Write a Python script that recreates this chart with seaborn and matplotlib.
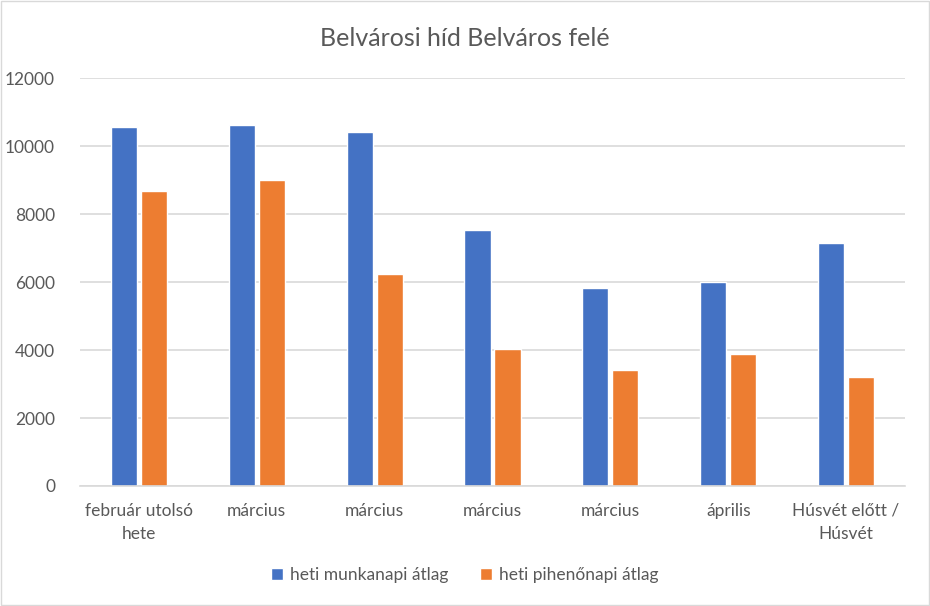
import pandas as pd
import numpy as np
import matplotlib.pyplot as plt
import seaborn as sns

# Adatok
kategoriak = ["február utolsó\nhete", "március", "március", "március",
              "március", "április", "Húsvét előtt /\nHúsvét"]
munkanap = [10560, 10620, 10410, 7530, 5820, 6000, 7150]
pihenonap = [8680, 9000, 6235, 4030, 3410, 3880, 3205]
sorozatok = ["heti munkanapi átlag", "heti pihenőnapi átlag"]
szinek = ["#4472C4", "#ED7D31"]

df = pd.DataFrame({
    "het": list(range(len(kategoriak))) * 2,
    "ertek": munkanap + pihenonap,
    "sorozat": [sorozatok[0]] * len(munkanap) + [sorozatok[1]] * len(pihenonap),
})

sns.set_style("white")
plt.rcParams['font.family'] = ['Lato', 'DejaVu Sans']
szurke = "#595959"

fig = plt.figure(figsize=(9.3, 6.06), dpi=100)
ax = fig.add_axes([80 / 930, 1 - 486 / 606, 825 / 930, 408 / 606])

sns.barplot(data=df, x="het", y="ertek", hue="sorozat", palette=szinek,
            width=0.51, gap=0.13, saturation=1, ax=ax, legend=True)

ax.set_ylim(0, 12000)
ax.set_xlim(-0.5, len(kategoriak) - 0.5)
ax.set_yticks(np.arange(0, 12001, 2000))
ax.set_xticks(range(len(kategoriak)))
ax.set_xticklabels(kategoriak, color=szurke, fontsize=12.5, linespacing=1.55, va="top")
ax.tick_params(axis="y", labelcolor=szurke, labelsize=12.5, length=0, pad=18)
ax.tick_params(axis="x", length=0, pad=12)
ax.yaxis.grid(True, color="#d9d9d9", linewidth=1.2)
ax.set_axisbelow(True)
for s in ["top", "right", "left"]:
    ax.spines[s].set_visible(False)
ax.spines["bottom"].set_color("#d9d9d9")
ax.spines["bottom"].set_linewidth(1.2)
ax.set_xlabel("")
ax.set_ylabel("")

fig.suptitle("Belvárosi híd Belváros felé", y=1 - 38 / 606, va="center",
             fontsize=18, color=szurke)

ax.get_legend().remove()
fig.legend(*ax.get_legend_handles_labels(), loc="center", bbox_to_anchor=(0.5, 1 - 575 / 606),
           ncol=2, frameon=False, fontsize=12.5, labelcolor=szurke,
           handlelength=0.7, handleheight=0.7, handletextpad=0.4, columnspacing=1.8)

# keret a kép körül
fig.patches.append(plt.Rectangle((0.001, 0.001), 0.998, 0.997, transform=fig.transFigure,
                                 fill=False, edgecolor="#d9d9d9", linewidth=1))

fig.savefig("out.png", dpi=100)
